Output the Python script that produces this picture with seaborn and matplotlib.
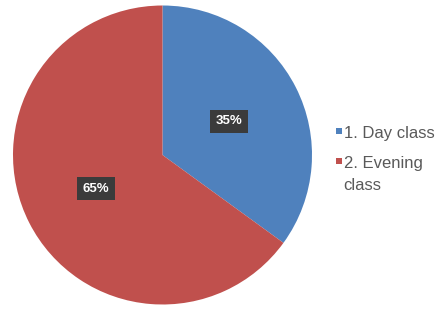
import matplotlib
matplotlib.use("Agg")
import matplotlib.pyplot as plt
from matplotlib.patches import Rectangle
import seaborn as sns

sns.set_theme(style="white")
plt.rcParams['font.family'] = ['Liberation Sans', 'DejaVu Sans']

categories = ["1. Day class", "2. Evening\nclass"]
values = [35, 65]
colors = ["#4f81bd", "#c0504d"]

W, H = 446, 309
fig = plt.figure(figsize=(W / 100, H / 100), dpi=100)
ax = fig.add_axes([13 / W, 4.5 / H, 299 / W, 299 / H])
wedges, texts, autotexts = ax.pie(
    values, colors=colors, startangle=90, counterclock=False,
    autopct="%d%%", pctdistance=0.5,
    wedgeprops=dict(linewidth=0),
    textprops=dict(color="white", fontsize=9.5, fontweight="bold"))
for t in autotexts:
    t.set_bbox(dict(boxstyle="square,pad=0.42", facecolor="#3b3b3b", edgecolor="none"))
ax.set_xlim(-1, 1)
ax.set_ylim(-1, 1)
ax.set_aspect("equal")

# legend, laid out like the original
first_baselines = [137.7, 167.7]
line_step = 22.3
for w, lab, yb in zip(wedges, categories, first_baselines):
    fig.patches.append(Rectangle((336 / W, 1 - (yb - 3.7) / H), 6 / W, 6 / H,
                                 transform=fig.transFigure, facecolor=w.get_facecolor(),
                                 edgecolor="none"))
    for i, line in enumerate(lab.split("\n")):
        fig.text(343.5 / W, 1 - (yb + i * line_step) / H, line, fontsize=12,
                 color="#595959", va="baseline", ha="left")
fig.savefig("out.png", dpi=100)
